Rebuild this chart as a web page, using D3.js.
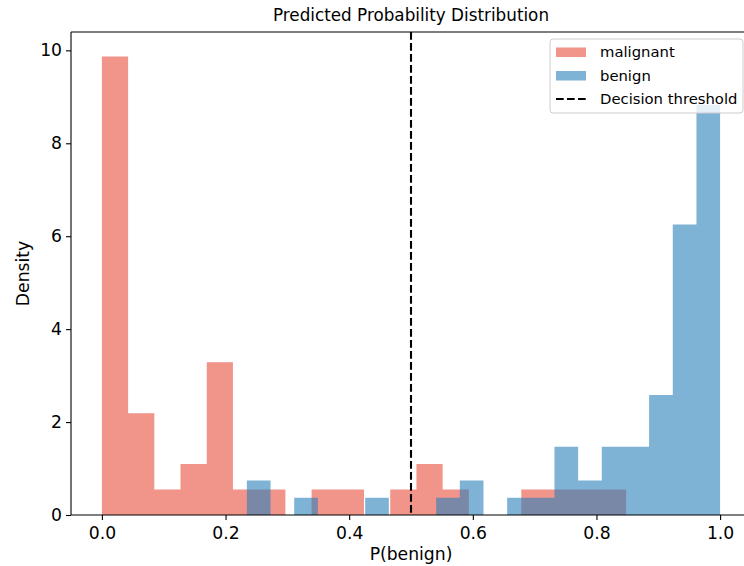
<!DOCTYPE html>
<html>
<head>
<meta charset="utf-8">
<script src="https://cdn.jsdelivr.net/npm/d3@7"></script>
<style>
  body { margin: 0; background: #fff; }
  svg { display: block; font-family: "DejaVu Sans", sans-serif; }
</style>
</head>
<body>
<svg id="chart" width="744" height="566"></svg>
<script>
// histogram densities, 20 bins each
const malignantDensity = [9.87, 2.19, 0.55, 1.10, 3.29, 0.55, 0.55, 0, 0.55, 0.55,
                          0, 0.55, 1.10, 0.55, 0, 0, 0.55, 0.55, 0.55, 0.55];
const malignantRange = [0.0, 0.848];

const benignDensity = [0.74, 0, 0.37, 0, 0, 0.37, 0, 0, 0.37, 0.74,
                       0, 0.37, 0.37, 1.47, 0.74, 1.47, 1.47, 2.58, 6.25, 8.83];
const benignRange = [0.2345, 1.0];

const threshold = 0.5;
const xTicks = [0, 0.2, 0.4, 0.6, 0.8, 1.0];
const yTicks = [0, 2, 4, 6, 8, 10];

const width = 744, height = 566;
const padL = 71, padR = 751, padT = 32, padB = 515;
const tickFont = 17.2, labelFont = 17.2, titleFont = 16.8, legendFont = 14.8;

const svg = d3.select("#chart");

const x = d3.scaleLinear().domain([-0.05, 1.05]).range([padL, padR]);
const y = d3.scaleLinear().domain([0, 10.395]).range([padB, padT]);

// bin edges from range, last edge repeats last value for the step curve
function toSteps(dens, range) {
    const w = (range[1] - range[0]) / dens.length;
    const pts = dens.map((d, i) => ({x: range[0] + i * w, v: d}));
    pts.push({x: range[1], v: dens[dens.length - 1]});
    return pts;
}

const series = [
    {name: "malignant", color: "#e74c3c", steps: toSteps(malignantDensity, malignantRange)},
    {name: "benign", color: "#2980b9", steps: toSteps(benignDensity, benignRange)}
];

svg.append("clipPath").attr("id", "clip")
    .append("rect").attr("x", padL).attr("y", padT)
    .attr("width", padR - padL).attr("height", padB - padT);

const plot = svg.append("g").attr("clip-path", "url(#clip)");

const area = d3.area()
    .curve(d3.curveStepAfter)
    .x(d => x(d.x))
    .y0(y(0))
    .y1(d => y(d.v));

series.forEach(s => {
    plot.append("path")
        .datum(s.steps)
        .attr("d", area)
        .attr("fill", s.color)
        .attr("fill-opacity", 0.6);
});

// decision threshold
plot.append("line")
    .attr("x1", x(threshold)).attr("x2", x(threshold))
    .attr("y1", padT).attr("y2", padB)
    .attr("stroke", "#000")
    .attr("stroke-width", 2.1)
    .attr("stroke-dasharray", "7.7,3.3");

// axes
const xAxis = svg.append("g")
    .attr("transform", `translate(0,${padB})`)
    .call(d3.axisBottom(x).tickValues(xTicks).tickFormat(d3.format(".1f")).tickSize(5).tickSizeOuter(0));
const yAxis = svg.append("g")
    .attr("transform", `translate(${padL},0)`)
    .call(d3.axisLeft(y).tickValues(yTicks).tickSize(5).tickSizeOuter(0));

[xAxis, yAxis].forEach(a => {
    a.select(".domain").remove();
    a.selectAll(".tick line").attr("stroke", "#000").attr("stroke-width", 1.1);
    a.selectAll(".tick text").attr("font-size", tickFont).attr("fill", "#000")
        .attr("font-family", "DejaVu Sans");
});
xAxis.selectAll(".tick text").attr("dy", 0).attr("y", 24);
yAxis.selectAll(".tick text").attr("x", -9);

// spines
svg.append("g").attr("stroke", "#000").attr("stroke-width", 1.1)
    .selectAll("line")
    .data([[padL, padT, padL, padB], [padL, padB, padR, padB], [padL, padT, padR, padT]])
    .join("line")
    .attr("x1", d => d[0]).attr("y1", d => d[1])
    .attr("x2", d => d[2]).attr("y2", d => d[3]);

// labels
svg.append("text")
    .attr("x", (padL + padR) / 2).attr("y", 20.5)
    .attr("text-anchor", "middle").attr("font-size", titleFont)
    .text("Predicted Probability Distribution");
svg.append("text")
    .attr("x", (padL + padR) / 2).attr("y", 560)
    .attr("text-anchor", "middle").attr("font-size", labelFont)
    .text("P(benign)");
svg.append("text")
    .attr("transform", `translate(29,${(padT + padB) / 2}) rotate(-90)`)
    .attr("text-anchor", "middle").attr("font-size", labelFont)
    .text("Density");

// legend
const lg = svg.append("g").attr("transform", "translate(550,39)");
lg.append("rect")
    .attr("width", 193).attr("height", 74).attr("rx", 3)
    .attr("fill", "#fff").attr("fill-opacity", 0.8)
    .attr("stroke", "#ccc").attr("stroke-width", 1);

const items = [
    {label: "malignant", type: "patch", color: series[0].color},
    {label: "benign", type: "patch", color: series[1].color},
    {label: "Decision threshold", type: "line"}
];
items.forEach((it, i) => {
    const row = lg.append("g").attr("transform", `translate(0,${13 + i * 23.5})`);
    if (it.type === "patch") {
        row.append("rect").attr("x", 6).attr("y", -4.5).attr("width", 30).attr("height", 9.5)
            .attr("fill", it.color).attr("fill-opacity", 0.6);
    } else {
        row.append("line").attr("x1", 6).attr("x2", 36).attr("y1", 0).attr("y2", 0)
            .attr("stroke", "#000").attr("stroke-width", 2.1).attr("stroke-dasharray", "7.7,3.3");
    }
    row.append("text").attr("x", 50).attr("y", 0).attr("dy", "0.35em")
        .attr("font-size", legendFont).text(it.label);
});
</script>
</body>
</html>
